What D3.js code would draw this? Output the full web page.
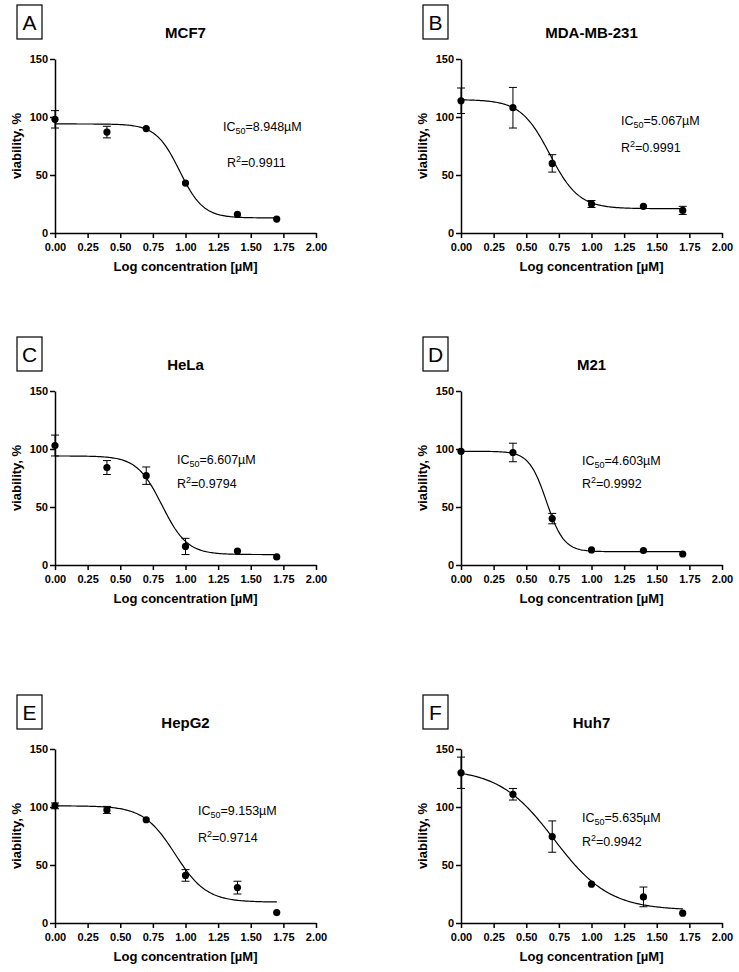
<!DOCTYPE html>
<html>
<head>
<meta charset="utf-8">
<script src="https://cdn.jsdelivr.net/npm/d3@7"></script>
<style>
body { margin: 0; background: #fff; }
svg { display: block; font-family: Arial, "Liberation Sans", sans-serif; }
.axis path, .axis line { stroke: #000; stroke-width: 1.5; }
.axis text { font-size: 11px; font-weight: bold; fill: #000; font-family: Arial, "Liberation Sans", sans-serif; }
.title { font-size: 15px; font-weight: bold; }
.axlabel { font-size: 13px; font-weight: bold; }
.note { font-size: 12.5px; }
.letter { font-size: 21px; }
.curve { fill: none; stroke: #000; stroke-width: 1.2; }
.errbar { stroke: #000; stroke-width: 1; }
</style>
</head>
<body>
<div id="chart"></div>
<script>
/* data */
var logConc = [0, 0.398, 0.699, 1.0, 1.398, 1.699];
var xTicks = [0, 0.25, 0.5, 0.75, 1.0, 1.25, 1.5, 1.75, 2.0];
var yTicks = [0, 50, 100, 150];

var cellLines = ["MCF7", "MDA-MB-231", "HeLa", "M21", "HepG2", "Huh7"];
var panelLetters = ["A", "B", "C", "D", "E", "F"];
var ic50Labels = ["8.948", "5.067", "6.607", "4.603", "9.153", "5.635"];
var r2Labels = ["0.9911", "0.9991", "0.9794", "0.9992", "0.9714", "0.9942"];

var mcf7Mean = [98, 87, 90, 43, 16, 12];
var mcf7Err = [7.5, 5, 0, 0, 0, 0];
var mdaMean = [114, 108, 60, 25, 23, 19.5];
var mdaErr = [11, 17.5, 7.5, 3, 0, 3.5];
var helaMean = [103, 84, 77, 16, 12, 7];
var helaErr = [9, 6, 7.5, 7, 0, 0];
var m21Mean = [98, 97, 40, 13, 12.5, 9.5];
var m21Err = [0, 8, 4.5, 0, 0, 0];
var hepg2Mean = [101, 97.5, 89, 41, 30.5, 9];
var hepg2Err = [2.5, 3, 0, 5, 5.5, 0];
var huh7Mean = [129.5, 111, 74.5, 33.5, 22.5, 8.5];
var huh7Err = [13.5, 5, 13.5, 0, 8.5, 0];

/* 4PL fit: top, bottom, logIC50, hill */
var fitTop = [94, 115, 94, 98, 101, 133];
var fitBottom = [13, 21, 9, 11.5, 18, 11];
var fitLogIC50 = [0.955, 0.68, 0.82, 0.655, 0.92, 0.714];
var fitHill = [4.8, 3.9, 4.5, 6.5, 3.6, 2.06];

var means = [mcf7Mean, mdaMean, helaMean, m21Mean, hepg2Mean, huh7Mean];
var errs = [mcf7Err, mdaErr, helaErr, m21Err, hepg2Err, huh7Err];

/* layout */
var w = 739, h = 972;
var plotW = 261, plotH = 174;
var colLeft = [55, 461];
var rowTop = [59, 391, 749];
/* where the IC50 / R2 notes sit, px from plot top-left */
var noteX = [168, 160, 122, 121, 143, 121];
var noteY1 = [72, 66, 73, 74, 66, 73];
var noteY2 = [108, 93, 97, 97, 93, 97];

var svg = d3.select("#chart").append("svg").attr("width", w).attr("height", h);

function fitValue(i, x) {
	return fitBottom[i] + (fitTop[i] - fitBottom[i]) / (1 + Math.pow(10, (x - fitLogIC50[i]) * fitHill[i]));
}

for (var i = 0; i < cellLines.length; ++i) {
	drawPanel(i);
}

function drawPanel(i) {
	var left = colLeft[i % 2];
	var top = rowTop[Math.floor(i / 2)];

	var xScale = d3.scaleLinear().domain([0, 2]).range([0, plotW]);
	var yScale = d3.scaleLinear().domain([0, 150]).range([plotH, 0]);

	var g = svg.append("g").attr("transform", "translate(" + left + "," + top + ")");

	/* letter box */
	g.append("rect")
		.attr("x", -38).attr("y", -54)
		.attr("width", 25).attr("height", 34)
		.attr("fill", "none").attr("stroke", "#000").attr("stroke-width", 1.2);
	g.append("text")
		.attr("class", "letter")
		.attr("x", -25.5).attr("y", -29)
		.attr("text-anchor", "middle")
		.text(panelLetters[i]);

	/* title */
	g.append("text")
		.attr("class", "title")
		.attr("x", plotW / 2).attr("y", -21)
		.attr("text-anchor", "middle")
		.text(cellLines[i]);

	/* axes */
	g.append("g")
		.attr("class", "axis")
		.attr("transform", "translate(0," + plotH + ")")
		.call(d3.axisBottom(xScale).tickValues(xTicks).tickFormat(d3.format(".2f")).tickSize(5).tickSizeOuter(0).tickPadding(5));

	g.append("g")
		.attr("class", "axis")
		.call(d3.axisLeft(yScale).tickValues(yTicks).tickSize(5).tickSizeOuter(0).tickPadding(2));

	g.append("text")
		.attr("class", "axlabel")
		.attr("x", plotW / 2).attr("y", plotH + 38)
		.attr("text-anchor", "middle")
		.text("Log concentration [\u00b5M]");

	g.append("text")
		.attr("class", "axlabel")
		.attr("transform", "translate(-34," + (plotH / 2) + ") rotate(-90)")
		.attr("text-anchor", "middle")
		.text("viability, %");

	/* fitted curve */
	var curvePts = d3.range(0, 1.7001, 0.01).map(function (x) { return [x, fitValue(i, x)]; });
	g.append("path")
		.datum(curvePts)
		.attr("class", "curve")
		.attr("d", d3.line()
			.x(function (d) { return xScale(d[0]); })
			.y(function (d) { return yScale(d[1]); }));

	/* points + error bars */
	var pts = logConc.map(function (x, k) { return { x: x, m: means[i][k], e: errs[i][k] }; });

	var eb = g.selectAll("g.eb").data(pts.filter(function (d) { return d.e > 0; })).enter()
		.append("g").attr("class", "eb");
	eb.append("line").attr("class", "errbar")
		.attr("x1", function (d) { return xScale(d.x); })
		.attr("x2", function (d) { return xScale(d.x); })
		.attr("y1", function (d) { return yScale(d.m - d.e); })
		.attr("y2", function (d) { return yScale(d.m + d.e); });
	eb.append("line").attr("class", "errbar")
		.attr("x1", function (d) { return xScale(d.x) - 4; })
		.attr("x2", function (d) { return xScale(d.x) + 4; })
		.attr("y1", function (d) { return yScale(d.m + d.e); })
		.attr("y2", function (d) { return yScale(d.m + d.e); });
	eb.append("line").attr("class", "errbar")
		.attr("x1", function (d) { return xScale(d.x) - 4; })
		.attr("x2", function (d) { return xScale(d.x) + 4; })
		.attr("y1", function (d) { return yScale(d.m - d.e); })
		.attr("y2", function (d) { return yScale(d.m - d.e); });

	g.selectAll("circle").data(pts).enter()
		.append("circle")
		.attr("cx", function (d) { return xScale(d.x); })
		.attr("cy", function (d) { return yScale(d.m); })
		.attr("r", 3.6)
		.attr("fill", "#000");

	/* IC50 and R2 */
	var t1 = g.append("text").attr("class", "note").attr("x", noteX[i]).attr("y", noteY1[i]);
	t1.append("tspan").text("IC");
	t1.append("tspan").attr("dy", 3).style("font-size", "9px").text("50");
	t1.append("tspan").attr("dy", -3).text("=" + ic50Labels[i] + "\u00b5M");

	var t2 = g.append("text").attr("class", "note").attr("x", noteX[i] + (i == 0 ? 4 : 0)).attr("y", noteY2[i]);
	t2.append("tspan").text("R");
	t2.append("tspan").attr("dy", -5).style("font-size", "9px").text("2");
	t2.append("tspan").attr("dy", 5).text("=" + r2Labels[i]);
}
</script>
</body>
</html>
